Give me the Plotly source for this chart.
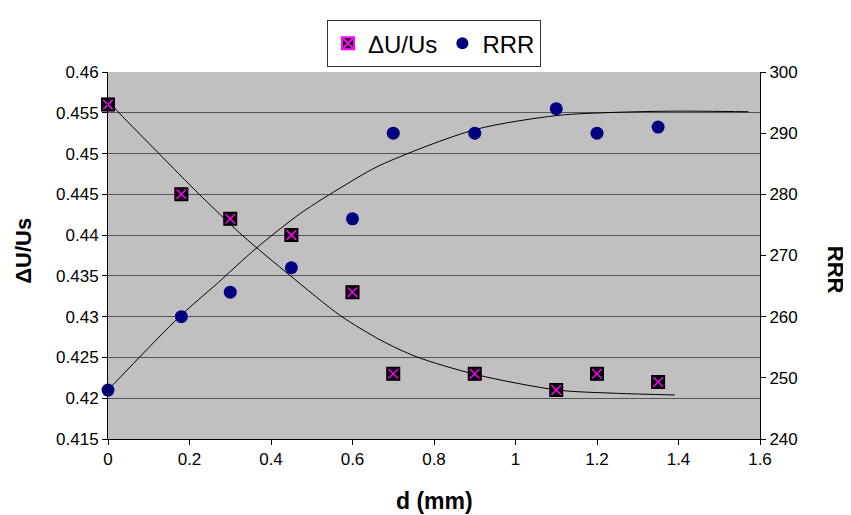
import plotly.graph_objects as go

# ---- data ----
d_mm = [0, 0.18, 0.3, 0.45, 0.6, 0.7, 0.9, 1.1, 1.2, 1.35]
du_us = [0.456, 0.445, 0.442, 0.440, 0.433, 0.423, 0.423, 0.421, 0.423, 0.422]
rrr = [248, 260, 264, 268, 276, 290, 290, 294, 290, 291]

# trend curves
du_fit_x = [0, 0.027, 0.125, 0.224, 0.329, 0.448, 0.571, 0.67, 0.756, 0.903, 1.104, 1.25, 1.391]
du_fit_y = [0.4565, 0.455, 0.450, 0.445, 0.440, 0.435, 0.4301, 0.4271, 0.4251, 0.4229, 0.4210, 0.4206, 0.4204]
rrr_fit_x = [0, 0.177, 0.2675, 0.363, 0.4726, 0.579, 0.6695, 0.9017, 1.104, 1.244, 1.391, 1.572]
rrr_fit_y = [248, 260.1, 265.4, 271.15, 276.9, 281.4, 284.8, 290.6, 292.9, 293.4, 293.6, 293.5]

x_ticks = [0, 0.2, 0.4, 0.6, 0.8, 1, 1.2, 1.4, 1.6]
x_ticktext = ["0", "0.2", "0.4", "0.6", "0.8", "1", "1.2", "1.4", "1.6"]
y_ticks = [0.415, 0.42, 0.425, 0.43, 0.435, 0.44, 0.445, 0.45, 0.455, 0.46]
y_ticktext = ["0.415", "0.42", "0.425", "0.43", "0.435", "0.44", "0.445", "0.45", "0.455", "0.46"]
y2_ticks = [240, 250, 260, 270, 280, 290, 300]

FONT = "Arial, Liberation Sans, sans-serif"

fig = go.Figure()

fig.add_trace(go.Scatter(x=du_fit_x, y=du_fit_y, mode="lines",
                         line=dict(color="black", width=1, shape="spline", smoothing=0.8),
                         showlegend=False, hoverinfo="skip", yaxis="y"))
fig.add_trace(go.Scatter(x=rrr_fit_x, y=rrr_fit_y, mode="lines",
                         line=dict(color="black", width=1, shape="spline", smoothing=0.8),
                         showlegend=False, hoverinfo="skip", yaxis="y2"))

fig.add_trace(go.Scatter(x=d_mm, y=du_us, mode="markers", name="ΔU/Us", yaxis="y",
                         marker=dict(symbol="square-x", size=12, color="black",
                                     line=dict(color="#FF00FF", width=1.5)),
                         cliponaxis=False))
fig.add_trace(go.Scatter(x=d_mm, y=du_us, mode="markers", showlegend=False, yaxis="y",
                         marker=dict(symbol="square-open", size=12, color="black",
                                     line=dict(color="black", width=2)),
                         cliponaxis=False, hoverinfo="skip"))
fig.add_trace(go.Scatter(x=d_mm, y=rrr, mode="markers", name="RRR", yaxis="y2",
                         marker=dict(symbol="circle", size=13, color="#000080",
                                     line=dict(width=0)),
                         cliponaxis=False))

fig.update_layout(
    width=843, height=507,
    margin=dict(l=100, r=91, t=56, b=76),
    paper_bgcolor="white",
    plot_bgcolor="#C0C0C0",
    font=dict(family=FONT, size=17, color="black"),
    xaxis=dict(range=[0, 1.6], tickvals=x_ticks, ticktext=x_ticktext, showgrid=False, zeroline=False,
               showline=True, linecolor="black", linewidth=1, ticks="outside", ticklen=5,
               tickcolor="black", tickfont=dict(size=17)),
    yaxis=dict(range=[0.415, 0.46], tickvals=y_ticks, ticktext=y_ticktext, showgrid=True,
               gridcolor="#555555", gridwidth=1, zeroline=False, showline=True, linecolor="black",
               linewidth=1, ticks="outside", ticklen=5, tickcolor="black", tickfont=dict(size=17)),
    yaxis2=dict(range=[240, 300], tickvals=y2_ticks, overlaying="y", side="right", showgrid=False,
                zeroline=False, showline=True, linecolor="black", linewidth=1, ticks="outside",
                ticklen=5, tickcolor="black", tickfont=dict(size=17)),
    legend=dict(orientation="h", x=0.5, xanchor="center", y=1.1413, yanchor="top",
                bgcolor="white", bordercolor="#333333", borderwidth=1,
                font=dict(size=24, family=FONT), itemsizing="constant"),
    annotations=[
        dict(text="<b>d (mm)</b>", xref="paper", yref="paper", x=0.5, y=-0.168,
             showarrow=False, font=dict(size=23, family=FONT), xanchor="center", yanchor="middle"),
        dict(text="<b>ΔU/Us</b>", xref="paper", yref="paper", x=-0.1288, y=0.513, textangle=-90,
             showarrow=False, font=dict(size=22, family=FONT), xanchor="center", yanchor="middle"),
        dict(text="<b>RRR</b>", xref="paper", yref="paper", x=1.115, y=0.461, textangle=90,
             showarrow=False, font=dict(size=22, family=FONT), xanchor="center", yanchor="middle"),
    ],
)

fig.write_html("out.html")
